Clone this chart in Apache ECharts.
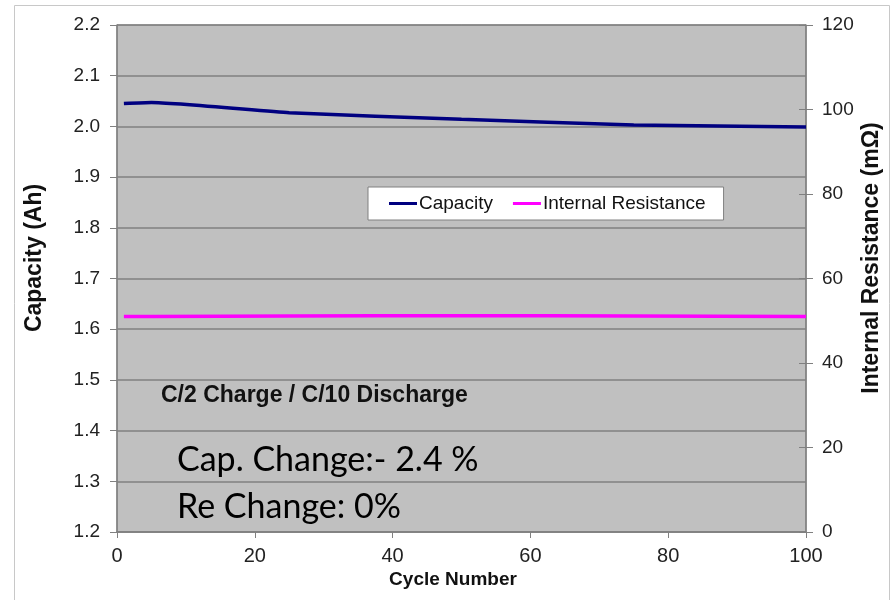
<!DOCTYPE html>
<html>
<head>
<meta charset="utf-8">
<script src="https://cdn.jsdelivr.net/npm/echarts@6/dist/echarts.min.js"></script>
<style>
  html, body { margin: 0; padding: 0; background: #fff; }
  #main { width: 895px; height: 600px; }
</style>
</head>
<body>
<div id="main"></div>
<script>
// cycle numbers where measurements were taken
var cycles = [1, 5, 25, 50, 75, 100];
// capacity in Ah
var capacity = [2.045, 2.047, 2.027, 2.014, 2.003, 1.999];
// internal resistance in mOhm
var resistance = [51.0, 51.0, 51.1, 51.2, 51.1, 51.0];

var capLabels = ['Cap. Change:- 2.4 %', 'Re Change: 0%'];
var testLabel = 'C/2 Charge / C/10 Discharge';

var font = 'Liberation Sans, Arial, sans-serif';
var calibriLike = 'Lato, Open Sans, sans-serif';

function pairs(xs, ys) {
    return xs.map(function (x, i) { return [x, ys[i]]; });
}

var chart = echarts.init(document.getElementById('main'));
chart.setOption({
    animation: false,
    backgroundColor: '#fff',
    grid: {
        left: 117, right: 89, top: 25, bottom: 68,
        show: true,
        backgroundColor: '#c0c0c0',
        borderColor: '#808080',
        borderWidth: 1
    },
    legend: {
        left: 368, top: 187,
        padding: [7, 18, 7, 21],
        backgroundColor: '#fff',
        borderColor: '#808080',
        borderWidth: 1,
        itemWidth: 28, itemHeight: 3, itemGap: 20,
        icon: 'rect',
        textStyle: { fontFamily: font, fontSize: 19, color: '#111', padding: [0, 0, 0, -3] },
        data: ['Capacity', 'Internal Resistance']
    },
    xAxis: {
        type: 'value', min: 0, max: 100, interval: 20,
        axisLine: { show: true, lineStyle: { color: '#808080', width: 1.5 } },
        axisTick: { show: true, length: 6, lineStyle: { color: '#808080' } },
        splitLine: { show: false },
        axisLabel: { fontFamily: font, fontSize: 20, color: '#222', margin: 14 }
    },
    yAxis: [{
        type: 'value', min: 1.2, max: 2.2, interval: 0.1, position: 'left',
        axisLine: { show: true, lineStyle: { color: '#808080', width: 1.5 } },
        axisTick: { show: true, length: 7, lineStyle: { color: '#808080' } },
        splitLine: { show: true, lineStyle: { color: '#808080', width: 1.5 } },
        axisLabel: {
            fontFamily: font, fontSize: 19, color: '#222', margin: 17,
            formatter: function (v) { return v.toFixed(1); }
        }
    }, {
        type: 'value', min: 0, max: 120, interval: 20, position: 'right',
        axisLine: { show: true, lineStyle: { color: '#808080', width: 1.5 } },
        axisTick: { show: true, length: 7, lineStyle: { color: '#808080' } },
        splitLine: { show: false },
        axisLabel: { fontFamily: font, fontSize: 19, color: '#222', margin: 16 }
    }, {
        // inner half of the crossing ticks on the right axis
        type: 'value', min: 0, max: 120, interval: 20, position: 'right',
        axisLine: { show: false },
        axisTick: { show: true, inside: true, length: 7, lineStyle: { color: '#808080' } },
        splitLine: { show: false },
        axisLabel: { show: false }
    }],
    graphic: [{
        type: 'rect', silent: true, z: -1,
        shape: { x: 14.5, y: 5.5, width: 875, height: 600 },
        style: { fill: null, stroke: '#c8c8c8', lineWidth: 1 }
    }, {
        type: 'text', x: 35, y: 258, rotation: Math.PI / 2, z: 10,
        style: {
            text: 'Capacity (Ah)', fontFamily: font, fontSize: 23, fontWeight: 'bold',
            fill: '#111', align: 'center', verticalAlign: 'middle'
        }
    }, {
        type: 'text', x: 872, y: 258, rotation: Math.PI / 2, z: 10,
        style: {
            text: 'Internal Resistance (m\u03A9)', fontFamily: font, fontSize: 23, fontWeight: 'bold',
            fill: '#111', align: 'center', verticalAlign: 'middle'
        }
    }, {
        type: 'text', x: 453, y: 580, z: 10,
        style: {
            text: 'Cycle Number', fontFamily: font, fontSize: 19, fontWeight: 'bold',
            fill: '#111', align: 'center', verticalAlign: 'middle'
        }
    }, {
        type: 'text', left: 161, top: 384, z: 10,
        style: { text: testLabel, fontFamily: font, fontSize: 23, fontWeight: 'bold', fill: '#111' }
    }, {
        type: 'text', left: 177, top: 443, z: 10,
        style: { text: capLabels[0], fontFamily: calibriLike, fontSize: 34, fill: '#000' }
    }, {
        type: 'text', left: 177, top: 490, z: 10,
        style: { text: capLabels[1], fontFamily: calibriLike, fontSize: 34, fill: '#000' }
    }],
    series: [{
        name: 'Capacity', type: 'line', yAxisIndex: 0,
        data: pairs(cycles, capacity),
        smooth: 0.15, showSymbol: false,
        lineStyle: { color: '#000080', width: 3.5 },
        itemStyle: { color: '#000080' }
    }, {
        name: 'Internal Resistance', type: 'line', yAxisIndex: 1,
        data: pairs(cycles, resistance),
        smooth: 0.15, showSymbol: false,
        lineStyle: { color: '#ff00ff', width: 3.5 },
        itemStyle: { color: '#ff00ff' }
    }]
});
</script>
</body>
</html>
